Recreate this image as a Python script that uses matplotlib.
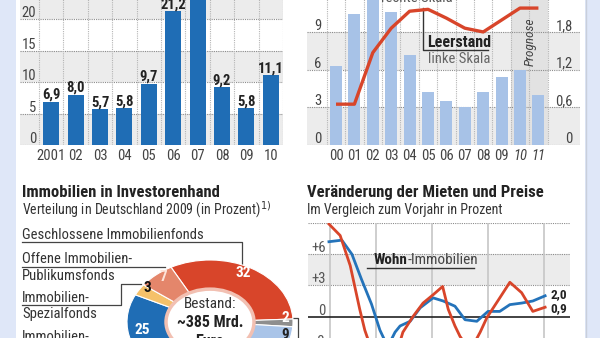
import matplotlib
matplotlib.use('Agg')
import matplotlib.pyplot as plt
import matplotlib.transforms as mtransforms
from matplotlib.patches import Rectangle, Circle

plt.rcParams['font.family'] = ['Roboto Condensed', 'Liberation Sans Narrow', 'DejaVu Sans']

# ---- data -------------------------------------------------------------
# top left: bars in percent (the 07 bar runs off the top of the picture)
years_a = ['2001', '02', '03', '04', '05', '06', '07', '08', '09', '10']
values_a = [6.9, 8.0, 5.7, 5.8, 9.7, 21.2, 27.0, 9.2, 5.8, 11.1]

# top right: Leerstand (bars, left scale) and line (right scale)
years_b = ['00', '01', '02', '03', '04', '05', '06', '07', '08', '09', '10', '11']
leerstand = [6.3, 10.4, 12.0, 10.6, 7.2, 4.2, 3.5, 3.05, 4.2, 5.4, 6.0, 4.0]
rechte_skala = [0.65, 0.65, 1.47, 1.86, 2.13, 2.16, 2.02, 1.86, 1.80, 1.99, 2.18, 2.18]
left_ticks_b = [0, 3, 6, 9]
right_ticks_b = [0, 0.6, 1.2, 1.8]

# bottom left: donut, clockwise from the top
anteil = [32, 2, 9, 22, 25, 3, 7]
anteil_text = ['32', '2', '9', '', '25', '3', '7']
anteil_colors = ['#d8452a', '#8e8e8e', '#a9c4e8', '#7db77c', '#1f6db5', '#f5c16a', '#e4866b']

# bottom right: change vs previous year in percent
t_blue = [2005.16, 2005.39, 2005.57, 2005.74, 2005.92, 2006.07, 2006.21, 2006.34, 2006.43,
          2006.61, 2006.79, 2007.02, 2007.20, 2007.41, 2007.59, 2007.80, 2008.00, 2008.21,
          2008.39, 2008.60, 2008.80, 2009.02]
v_blue = [7.2, 7.35, 6.0, 3.6, 1.2, -1.3, -2.9, -1.5, -0.9, -0.45, 0.85, 1.8, 1.5, 1.0,
          -0.3, -0.45, 0.5, 0.5, 1.15, 1.3, 1.5, 2.0]
t_red = [2005.16, 2005.36, 2005.54, 2005.71, 2005.80, 2006.07, 2006.34, 2006.48, 2006.66,
         2006.84, 2007.02, 2007.19, 2007.29, 2007.41, 2007.50, 2007.68, 2007.86, 2007.98,
         2008.21, 2008.39, 2008.60, 2008.80, 2009.02]
v_red = [8.9, 7.8, 4.9, 0.7, -1.3, -5.5, -4.0, -1.5, 0.0, 1.3, 2.1, 2.9, 0.7, -0.9, -1.9,
         -3.3, -1.5, -0.1, 1.8, 3.3, 2.3, 0.5, 0.9]
year_lines = [2005.18, 2006, 2007, 2008, 2009]
ticks_d = [6, 3, 0, -3]

BLUE = '#1f6db5'
RED = '#d8452a'
BAND = '#ececec'
GRID = '#8c8c8c'
TXT = '#222222'
TICK = '#444444'

W, H = 600, 338
fig = plt.figure(figsize=(6, 3.38), dpi=100)
fig.patch.set_facecolor('#dfe7f8')


def px_axes(x0, y0, x1, y1):
    # axes placed by pixel box, y counted from the top
    return fig.add_axes([x0 / W, 1 - y1 / H, (x1 - x0) / W, (y1 - y0) / H])


def up(ax, dots, trans=None):
    return mtransforms.offset_copy(trans or ax.transData, fig=fig, x=0, y=dots, units='dots')


def clean(ax):
    ax.set_facecolor('none')
    for s in ax.spines.values():
        s.set_visible(False)
    ax.set_yticks([])


# background / page
bg = px_axes(0, 0, 600, 338)
bg.set_xlim(0, 600)
bg.set_ylim(338, 0)
bg.axis('off')
bg.add_patch(Rectangle((16, 0), 569, 338, facecolor='white', edgecolor='none', zorder=0))
bg.plot([585.5, 585.5], [0, 338], color='#c9cfdb', lw=1)

# ---- top left ---------------------------------------------------------
ax1 = px_axes(20, -12.5, 283, 145)
clean(ax1)
ax1.set_xlim(-1.28, 9.5)
ax1.set_ylim(0, 25)
for lo in [0, 10, 20]:
    ax1.axhspan(lo, lo + 5, color=BAND, zorder=0, lw=0)
for v in range(0, 25, 5):
    ax1.axhline(v, color=GRID, lw=0.8, ls=(0, (1, 1)), zorder=1)
    ax1.text(-0.62, v, str(v), ha='right', va='baseline', fontsize=10.5, color=TICK,
             transform=up(ax1, 2))
for i in range(-1, 10):
    ax1.axvline(i + 0.5, color='#b5b5b5', lw=0.8, ls=(0, (1, 1)), zorder=1)
ax1.bar(range(len(values_a)), values_a, width=0.66, color=BLUE, zorder=2)
for i, v in enumerate(values_a):
    ax1.text(i, v, f'{v:.1f}'.replace('.', ','), ha='center', va='baseline',
             fontsize=10.5, fontweight='bold', color=TXT, transform=up(ax1, 3))
ax1.set_xticks(range(len(years_a)))
ax1.set_xticklabels(years_a, fontsize=10.5, color=TICK)
ax1.tick_params(axis='x', length=0, pad=3)

# ---- top right --------------------------------------------------------
ax2 = px_axes(307, -18.3, 580, 145)
clean(ax2)
ax2.set_xlim(-1.576, 13.26)
ax2.set_ylim(0, 13)
for lo in [0, 6, 12]:
    ax2.axhspan(lo, lo + 3, color=BAND, zorder=0, lw=0)
ax2.axvspan(9.5, 11.5, color='#e2e2e2', zorder=0.5, lw=0)
for v in [0, 3, 6, 9, 12]:
    ax2.axhline(v, color=GRID, lw=0.8, ls=(0, (1, 1)), zorder=1)
for i in range(-1, 12):
    ax2.axvline(i + 0.5, color='#b5b5b5', lw=0.8, ls=(0, (1, 1)), zorder=1)
ax2.bar(range(len(leerstand)), leerstand, width=0.65, color='#a7c2e7', zorder=2)
for v in left_ticks_b:
    ax2.text(-0.8, v, str(v), ha='right', va='baseline', fontsize=10.5, color=TICK,
             transform=up(ax2, 2))
ax2.set_xticks(range(len(years_b)))
ax2.set_xticklabels(years_b, fontsize=10.5, color=TICK)
ax2.tick_params(axis='x', length=0, pad=3)
for lab in ax2.get_xticklabels()[10:]:
    lab.set_style('italic')

ax2b = ax2.twinx()
clean(ax2b)
ax2b.set_ylim(0, 13 / 5)
ax2b.plot(range(len(rechte_skala)), rechte_skala, color=RED, lw=2.4,
          solid_joinstyle='round', solid_capstyle='butt', zorder=3)
for v in right_ticks_b:
    ax2b.text(12.87, v, f'{v:g}'.replace('.', ','), ha='right', va='baseline',
              fontsize=10.5, color=TICK, transform=up(ax2b, 2))

ax2.text(4.37, 11.35, 'rechte Skala', ha='center', va='baseline', fontsize=10.5,
         color='#555555', zorder=4)
ax2.plot([4.75, 4.75, 8.24], [10.9, 7.56, 7.56], color='#333333', lw=1, zorder=4)
ax2.text(4.95, 7.83, 'Leerstand', ha='left', va='baseline', fontsize=11.5,
         fontweight='bold', color=TXT, zorder=4)
ax2.text(5.0, 6.5, 'linke Skala', ha='left', va='baseline', fontsize=10.5,
         color='#666666', zorder=4)
ax2.text(10.53, 8.2, 'Prognose', ha='center', va='center', rotation=90,
         fontsize=9.5, style='italic', color=TICK, zorder=4)

# ---- bottom left: donut -----------------------------------------------
bg.text(22, 197, 'Immobilien in Investorenhand', fontsize=12, fontweight='bold',
        color=TXT, va='baseline')
bg.text(22, 214, 'Verteilung in Deutschland 2009 (in Prozent)$^{1)}$', fontsize=10,
        color='#333333', va='baseline')
bg.text(22, 239, 'Geschlossene Immobilienfonds', fontsize=10.5, color='#333333',
        va='baseline')
bg.text(22, 263, 'Offene Immobilien-', fontsize=10.5, color='#333333', va='baseline')
bg.text(22, 280, 'Publikumsfonds', fontsize=10.5, color='#333333', va='baseline')
bg.text(22, 302, 'Immobilien-', fontsize=10.5, color='#333333', va='baseline')
bg.text(22, 318, 'Spezialfonds', fontsize=10.5, color='#333333', va='baseline')
bg.text(22, 341, 'Immobilien-', fontsize=10.5, color='#333333', va='baseline')
line_kw = dict(color='#444444', lw=0.9)
bg.plot([22, 242, 242], [242, 242, 266], **line_kw)
bg.plot([22, 165], [266.5, 266.5], **line_kw)
bg.plot([22, 121, 121, 141], [305, 305, 284, 284], **line_kw)
bg.plot([292, 298, 298], [318, 318, 345], **line_kw)

ax3 = px_axes(127, 260, 293, 384)
ax3.pie(anteil, colors=anteil_colors, startangle=118, counterclock=False, radius=1,
        wedgeprops=dict(width=0.47, edgecolor='white', linewidth=0.8))
ax3.set_aspect('auto')
ax3.set_xlim(-1, 1)
ax3.set_ylim(-1, 1)
ax3.add_patch(Circle((0, 0), 0.53, facecolor='white', edgecolor='#f2c0b2', lw=2.5, zorder=3))

# texts on the donut go on the donut axes (pixel positions via the page axes)
px = bg.transData
ax3.text(210, 308, 'Bestand:', ha='center', va='baseline', fontsize=11, color='#333333',
         zorder=5, transform=px, clip_on=False)
ax3.text(210, 327, '~385 Mrd.', ha='center', va='baseline', fontsize=11.5,
         fontweight='bold', color=TXT, zorder=5, transform=px, clip_on=False)
ax3.text(210, 346, 'Euro', ha='center', va='baseline', fontsize=11.5,
         fontweight='bold', color=TXT, zorder=5, transform=px, clip_on=False)
label_pos = {'32': (243, 273, 'white'), '7': (163, 277, '#fde3d9'), '3': (147, 288, '#111111'),
             '25': (142, 330, 'white'), '2': (285, 318, 'white'), '9': (285, 335, '#222222')}
for lab in anteil_text:
    if lab:
        x, y, c = label_pos[lab]
        ax3.text(x, y, lab, ha='center', va='center', fontsize=11, fontweight='bold',
                 color=c, zorder=5, transform=px, clip_on=False)

# ---- bottom right -----------------------------------------------------
bg.text(307, 197, 'Veränderung der Mieten und Preise', fontsize=12, fontweight='bold',
        color=TXT, va='baseline')
bg.text(307, 214, 'Im Vergleich zum Vorjahr in Prozent', fontsize=10, color='#333333',
        va='baseline')

ax4 = px_axes(308, 223, 570, 379)
clean(ax4)
ax4.set_xticks([])
ax4.set_xlim(2004.786, 2009.464)
ax4.set_ylim(-6, 9)
ax4.axhspan(3, 6, color=BAND, zorder=0, lw=0)
for v in [9, 6, 3, -3]:
    ax4.axhline(v, color=GRID, lw=0.8, ls=(0, (1, 1)), zorder=1)
ax4.axhline(0, color='#222222', lw=1.2, zorder=1.5)
for t in year_lines:
    ax4.axvline(t, ymin=0, ymax=1, color='#c6c6c6', lw=1.2, zorder=1)
for v in ticks_d:
    s = '0' if v == 0 else (f'+{v}' if v > 0 else f'\u2212{-v}')
    ax4.text(2005.107, v, s, ha='right', va='baseline', fontsize=10.5, color='#555555',
             transform=up(ax4, 2))
ax4.plot(t_blue, v_blue, color='#2473ba', lw=2, zorder=3, solid_joinstyle='round')
ax4.plot(t_red, v_red, color=RED, lw=2, zorder=3, solid_joinstyle='round')
ax4.text(2009.107, v_blue[-1], f'{v_blue[-1]:.1f}'.replace('.', ','), ha='left',
         va='center', fontsize=9.5, fontweight='bold', color=TXT, transform=up(ax4, 1.5))
ax4.text(2009.107, v_red[-1], f'{v_red[-1]:.1f}'.replace('.', ','), ha='left',
         va='center', fontsize=9.5, fontweight='bold', color=TXT, transform=up(ax4, -1.5))
t1 = ax4.text(2005.964, 5.03, 'Wohn', ha='left', va='baseline', fontsize=11,
              fontweight='bold', color=TXT, zorder=4)
ax4.annotate('-Immobilien', xy=(1, 0), xycoords=t1, ha='left', va='bottom',
             fontsize=11, color='#444444', zorder=4)
ax4.plot([2005.84, 2007.75], [4.65, 4.65], color='#333333', lw=1, zorder=4)

fig.savefig('out.png', dpi=100, facecolor=fig.get_facecolor())
